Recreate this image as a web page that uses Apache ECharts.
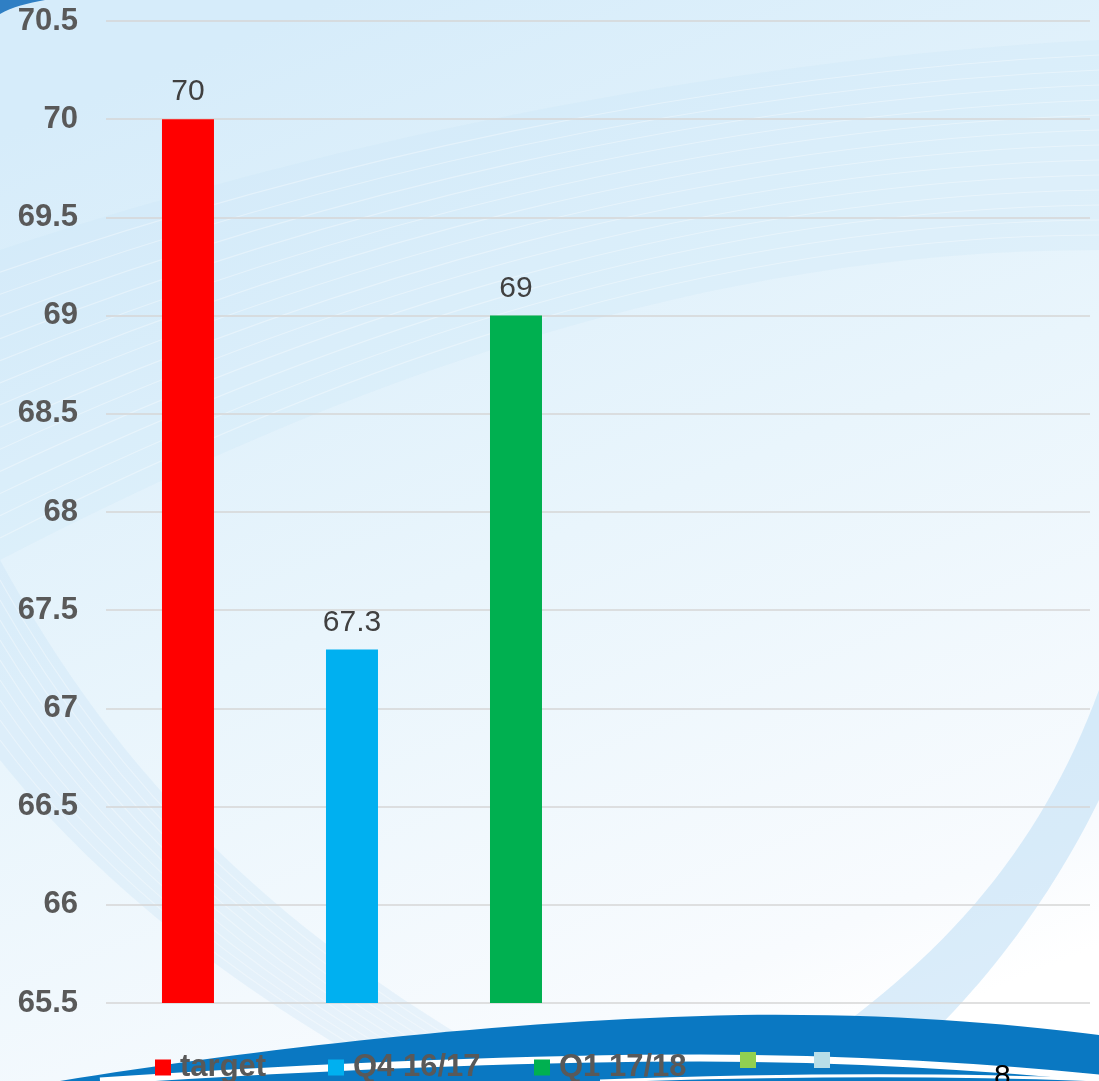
<!DOCTYPE html>
<html>
<head>
<meta charset="utf-8">
<style>
  html, body { margin: 0; padding: 0; background: #ffffff; }
  #chart { width: 1099px; height: 1081px; }
</style>
<script src="https://cdn.jsdelivr.net/npm/echarts@6/dist/echarts.min.js"></script>
</head>
<body>
<div id="chart"></div>
<script>
// Score by period: one category, one bar per series
const categories = [''];
const seriesNames = ['target', 'Q4 16/17', 'Q1 17/18', ' ', '  ', '   '];
const seriesValues = [70, 67.3, 69, null, null, null];
const seriesColors = ['#FF0000', '#00B0F0', '#00B050', '#92D050', '#B7DEE8', '#D9D9D9'];
const yMin = 65.5, yMax = 70.5, yStep = 0.5;
const slideNumber = '8';

// legend entries are placed one by one along the bottom
const legendLeft = [155, 328, 534, 740, 814];

const FONT = '"Liberation Sans", Arial, sans-serif';

// backdrop outlines, registered as graphic shape types
const backdropPaths = {
  cornerTL: 'M0,0 L45,0 C28,3 12,7 0,14 Z',
  fanUpper: 'M0,250 C300,150 700,60 1099,40 L1099,250 C700,250 350,380 0,560 Z',
  ringLeft: 'M0,560 C120,780 280,940 540,1081 L400,1081 C200,970 80,860 0,760 Z',
  ringRight: 'M1099,690 C1040,850 940,970 760,1081 L880,1081 C990,990 1060,880 1099,800 Z',
  wave: 'M60,1081 C250,1050 500,1020 740,1015 C900,1013 1020,1025 1099,1035 L1099,1081 Z',
  stripeA: 'M100,1081 C300,1068 500,1058 700,1058 C850,1058 1000,1068 1099,1078',
  stripeB: 'M600,1081 C800,1074 950,1074 1099,1080'
};
Object.keys(backdropPaths).forEach(k => {
  echarts.graphic.registerShape(k, echarts.graphic.extendPath(backdropPaths[k], {}));
});

const chart = echarts.init(document.getElementById('chart'));

const series = seriesNames.map((name, i) => ({
  name: name,
  type: 'bar',
  data: [seriesValues[i]],
  barWidth: 52,
  barGap: '215.4%',
  itemStyle: { color: seriesColors[i] },
  label: {
    show: true,
    position: 'top',
    distance: 12,
    fontFamily: FONT,
    fontSize: 30,
    color: '#404040'
  }
}));

const legends = legendLeft.map((x, i) => ({
  data: [seriesNames[i]],
  left: x,
  top: 1052,
  icon: 'rect',
  itemWidth: 16,
  itemHeight: 16,
  padding: 0,
  selectedMode: false,
  formatter: n => n.trim(),
  textStyle: {
    fontFamily: FONT,
    fontSize: 31,
    fontWeight: 'bold',
    color: '#595959',
    padding: [4, 0, 0, 4]
  }
}));

function backdrop(type, style, z) {
  return { type: type, z: z, silent: true, shape: {}, style: style };
}

// thin pale streaks inside a swoosh, between two bounding curves
function streaks(a, b, count, color) {
  const out = [];
  for (let k = 1; k < count; k++) {
    const t = k / count;
    const shape = {};
    Object.keys(a).forEach(key => { shape[key] = a[key] + (b[key] - a[key]) * t; });
    out.push({
      type: 'bezierCurve', z: -18, silent: true, shape: shape,
      style: { stroke: color, lineWidth: 1.2, fill: null }
    });
  }
  return out;
}

const graphics = [
  {
    type: 'rect', z: -20, silent: true,
    shape: { x: 0, y: 0, width: 1099, height: 1081 },
    style: {
      fill: new echarts.graphic.LinearGradient(0.3, 0, 0.7, 1, [
        { offset: 0, color: '#D6ECFA' },
        { offset: 0.5, color: '#E9F5FC' },
        { offset: 0.9, color: '#F8FBFE' },
        { offset: 1, color: '#FFFFFF' }
      ])
    }
  },
  backdrop('cornerTL', { fill: '#2F7FC4' }, -19),
  backdrop('fanUpper', { fill: 'rgba(196,226,246,0.22)' }, -19),
  backdrop('ringLeft', { fill: 'rgba(190,222,245,0.26)' }, -19),
  backdrop('ringRight', { fill: 'rgba(175,215,243,0.45)' }, -19),
  ...streaks(
    { x1: 0, y1: 250, cpx1: 300, cpy1: 150, cpx2: 700, cpy2: 60, x2: 1099, y2: 40 },
    { x1: 0, y1: 560, cpx1: 350, cpy1: 380, cpx2: 700, cpy2: 250, x2: 1099, y2: 250 },
    14, 'rgba(255,255,255,0.35)'
  ),
  ...streaks(
    { x1: 0, y1: 560, cpx1: 120, cpy1: 780, cpx2: 280, cpy2: 940, x2: 540, y2: 1081 },
    { x1: 0, y1: 760, cpx1: 80, cpy1: 860, cpx2: 200, cpy2: 970, x2: 400, y2: 1081 },
    10, 'rgba(255,255,255,0.35)'
  ),
  backdrop('wave', { fill: '#0A78C2' }, -17),
  backdrop('stripeA', { stroke: '#FFFFFF', lineWidth: 7, fill: null }, -16),
  backdrop('stripeB', { stroke: '#FFFFFF', lineWidth: 3, fill: null }, -16),
  {
    type: 'text', z: 5, silent: true,
    left: 994, top: 1062,
    style: { text: slideNumber, font: '30px ' + FONT, fill: '#000000' }
  }
];

chart.setOption({
  animation: false,
  grid: { left: 106, right: 9, top: 21, bottom: 78, containLabel: false },
  graphic: { elements: graphics },
  legend: legends,
  xAxis: {
    type: 'category',
    data: categories,
    axisLine: { show: false },
    axisTick: { show: false },
    axisLabel: { show: false }
  },
  yAxis: {
    type: 'value',
    min: yMin,
    max: yMax,
    interval: yStep,
    axisLine: { show: false },
    axisTick: { show: false },
    axisLabel: {
      margin: 28,
      fontFamily: FONT,
      fontSize: 31,
      fontWeight: 'bold',
      color: '#595959'
    },
    splitLine: { lineStyle: { color: '#D6D6D6', width: 1.5 } }
  },
  series: series
});
</script>
</body>
</html>
